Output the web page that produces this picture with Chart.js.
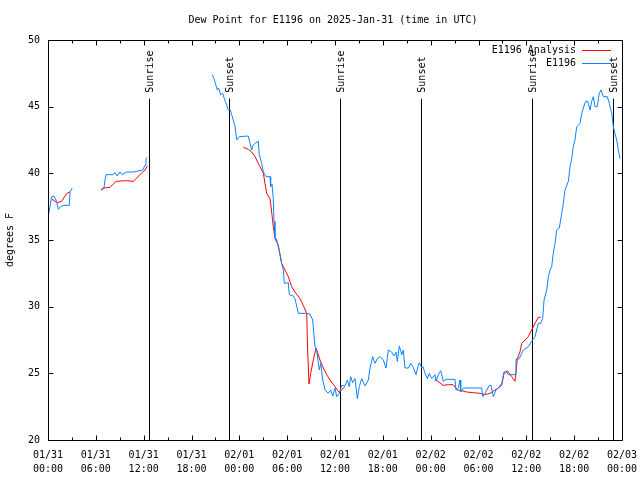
<!DOCTYPE html>
<html>
<head>
<meta charset="utf-8">
<script src="https://cdn.jsdelivr.net/npm/chart.js@4.4.1/dist/chart.umd.min.js"></script>
<style>
  body { margin: 0; background: #fff; }
  canvas { display: block; }
</style>
</head>
<body>
<canvas id="dewChart" width="640" height="480"></canvas>
<script>
// hours since 01/31 00:00 UTC, null = gap in the record
const obsHours = [
  0.04, 0.46, 0.75, 1.09, 1.29, 1.59, 1.92, 2.67, 2.76, 3.05, 5.0,
  6.74, 7.02, 7.15, 7.28, 8.19, 8.40, 8.66, 9.03, 9.28, 9.87, 10.70, 11.54, 11.88, 12.17, 12.29, 12.46, 16.0,
  20.61, 20.82, 21.07, 21.24, 21.39, 21.66, 21.91, 22.12, 22.42, 22.62, 22.83, 23.04, 23.24, 23.46, 23.67, 24.00,
  25.12, 25.34, 25.55, 25.71, 25.96, 26.38, 26.50, 26.81, 27.01, 27.35, 27.85, 27.93, 28.10, 28.26, 28.35, 28.47,
  28.69, 28.89, 29.10, 29.31, 29.52, 29.64, 30.14, 30.27, 30.77, 30.98, 31.40, 32.45, 32.86, 33.20, 33.49, 33.70,
  34.03, 34.21, 34.46, 34.75, 35.16, 35.46, 35.71, 36.00, 36.21, 36.54, 36.84, 37.25, 37.54, 37.79, 37.97, 38.22,
  38.51, 38.80, 39.05, 39.35, 39.76, 40.18, 40.39, 40.73, 41.02, 41.31, 41.65, 42.06, 42.40, 42.69, 43.11, 43.40,
  43.65, 43.82, 44.07, 44.37, 44.57, 44.78, 45.20, 45.50, 45.82, 46.16, 46.45, 46.58, 46.88, 47.04, 47.29, 47.58,
  47.83, 48.13, 48.54, 48.67, 48.96, 49.26, 49.59, 49.92, 51.05, 51.18, 51.47, 51.68, 51.77, 52.09, 54.40, 54.53,
  54.82, 55.36, 55.57, 55.86, 56.19, 56.48, 56.91, 57.20, 57.53, 57.74, 58.58, 58.70, 59.12, 59.42, 59.63, 60.25,
  60.67, 61.09, 61.50, 61.80, 62.05, 62.22, 62.56, 62.76, 62.97, 63.18, 63.38, 63.60, 63.81, 64.14, 64.44, 64.64,
  64.85, 65.27, 65.48, 65.69, 65.89, 66.10, 66.32, 66.52, 66.73, 66.95, 67.15, 67.45, 67.70, 67.99, 68.20, 68.40,
  68.62, 68.90, 69.15, 69.37, 69.66, 70.16, 70.41, 70.71, 70.91, 71.12, 71.33, 71.54, 71.75
];
const obsDew = [
  36.8, 38.25, 38.3, 37.9, 37.3, 37.5, 37.6, 37.6, 38.6, 38.9, null,
  38.75, 38.9, 39.5, 39.9, 39.9, 40.05, 39.8, 40.1, 39.9, 40.1, 40.1, 40.2, 40.25, 40.6, 41.1, 41.2, null,
  47.4, 47.1, 46.6, 46.25, 46.4, 45.9, 46.0, 45.6, 45.1, 44.75, 44.8, 44.4, 44.0, 43.5, 42.5, 42.75,
  42.8, 42.25, 41.75, 42.1, 42.25, 42.4, 41.4, 40.75, 40.1, 39.75, 39.75, 39.0, 39.2, 38.1, 36.4, 35.25,
  35.0, 34.5, 33.9, 33.25, 32.75, 31.75, 31.8, 30.9, 30.8, 30.6, 29.5, 29.5, 29.45, 29.0, 27.0, 26.75,
  25.25, 25.75, 24.5, 23.75, 23.5, 23.75, 23.3, 23.9, 23.25, 23.5, 24.1, 24.05, 24.5, 24.0, 24.75, 24.3,
  24.6, 23.1, 24.0, 24.6, 24.05, 24.5, 25.4, 26.25, 25.75, 26.1, 26.25, 26.0, 25.4, 26.75, 26.6, 26.3,
  26.6, 25.9, 27.05, 26.4, 26.75, 25.4, 25.4, 25.75, 25.45, 24.9, 25.6, 25.8, 25.4, 25.5, 25.0, 24.6,
  25.0, 24.6, 24.9, 24.4, 24.9, 25.2, 24.4, 24.55, 24.55, 23.75, 23.9, 24.5, 23.6, 23.9, 23.9, 23.25,
  23.5, 24.1, 24.1, 23.25, 23.75, 23.9, 24.25, 25.1, 25.1, 24.9, 24.9, 26.05, 26.1, 26.5, 26.75, 27.0,
  27.4, 27.75, 28.75, 28.75, 29.1, 30.5, 31.25, 32.25, 32.75, 33.0, 34.0, 34.75, 35.75, 35.9, 37.0, 37.75,
  38.75, 39.4, 40.5, 41.1, 42.0, 42.5, 43.5, 43.6, 43.75, 44.5, 44.9, 45.4, 45.4, 44.75, 45.4, 45.75,
  45.0, 45.0, 46.0, 46.25, 45.75, 45.75, 45.25, 44.5, 43.5, 43.0, 42.5, 41.75, 41.1
];

const anaHours = [
  0.46, 0.66, 1.17, 1.72, 2.35, 2.76, 5.0,
  6.65, 6.94, 7.78, 8.53, 9.87, 10.70, 11.54, 12.17, 12.46, 18.0,
  24.50, 25.13, 25.55, 25.97, 26.38, 26.59, 27.01, 27.22, 27.43, 27.85, 28.06, 28.26, 28.47, 28.89, 29.31, 29.73,
  30.14, 30.57, 30.98, 31.61, 32.02, 32.45, 32.57, 32.74, 32.95, 33.28, 33.62, 34.12, 34.53, 34.96, 35.37, 36.00,
  36.54, 37.04, 37.25, 42.0,
  48.54, 49.59, 50.22, 50.84, 51.34, 51.89, 52.52, 53.35, 54.19, 54.82, 55.44, 56.07, 56.48, 56.91, 57.20, 57.61,
  58.17, 58.58, 58.87, 59.20, 59.42, 59.83, 60.25, 60.67, 61.09, 61.50, 61.80
];
const anaDew = [
  38.05, 38.0, 37.8, 37.9, 38.5, 38.6, null,
  38.75, 38.9, 38.95, 39.4, 39.45, 39.4, 39.9, 40.25, 40.55, null,
  41.95, 41.8, 41.6, 41.25, 40.75, 40.5, 40.0, 39.25, 38.5, 38.1, 37.1, 36.0, 35.1, 34.6, 33.25, 32.75,
  32.25, 31.5, 31.1, 30.6, 30.1, 29.5, 26.75, 24.2, 25.0, 26.0, 26.9, 26.0, 25.4, 24.9, 24.5, 24.0,
  23.55, 23.9, 24.0, null,
  24.55, 24.1, 24.15, 24.15, 23.75, 23.7, 23.6, 23.55, 23.5, 23.4, 23.5, 23.75, 23.9, 24.1, 25.0, 25.2,
  24.75, 24.4, 26.1, 26.6, 27.25, 27.5, 27.75, 28.25, 28.75, 29.2, 29.2
];

const sunHours = [12.732, 22.767, 36.690, 46.850, 60.774, 70.934];
const sunNames = ['Sunrise', 'Sunset', 'Sunrise', 'Sunset', 'Sunrise', 'Sunset'];
const sunTop = 45.6;

const dayLabels = ['01/31', '01/31', '01/31', '01/31', '02/01', '02/01', '02/01', '02/01', '02/02', '02/02', '02/02', '02/02', '02/03'];
const clockLabels = ['00:00', '06:00', '12:00', '18:00', '00:00', '06:00', '12:00', '18:00', '00:00', '06:00', '12:00', '18:00', '00:00'];

const FONT = '"DejaVu Sans Mono", "Liberation Mono", monospace';

const toPoints = (xs, ys) => xs.map((h, i) => ({ x: h, y: ys[i] }));

let sunPoints = [];
sunHours.forEach((h) => {
  sunPoints.push({ x: h, y: 20 }, { x: h, y: sunTop }, { x: h, y: null });
});

// gnuplot look: frame, inward ticks, rotated sun labels, legend, title
const gnuplotDecor = {
  id: 'gnuplotDecor',
  afterDraw(chart) {
    const ctx = chart.ctx;
    const area = chart.chartArea;
    const xs = chart.scales.x;
    const ys = chart.scales.y;
    const L = Math.round(area.left) + 0.5, R = Math.round(area.right) + 0.5;
    const T = Math.round(area.top) + 0.5, B = Math.round(area.bottom) + 0.5;

    ctx.save();
    ctx.strokeStyle = '#000';
    ctx.lineWidth = 1;
    ctx.beginPath();
    ctx.rect(L, T, R - L, B - T);

    xs.ticks.forEach((t) => {
      const px = Math.round(xs.getPixelForValue(t.value)) + 0.5;
      const len = t.value % 6 === 0 ? 5 : 3;
      ctx.moveTo(px, B); ctx.lineTo(px, B - len);
      ctx.moveTo(px, T); ctx.lineTo(px, T + len);
    });
    ys.ticks.forEach((t) => {
      const py = Math.round(ys.getPixelForValue(t.value)) + 0.5;
      ctx.moveTo(L, py); ctx.lineTo(L + 5, py);
      ctx.moveTo(R, py); ctx.lineTo(R - 5, py);
    });
    ctx.stroke();

    ctx.fillStyle = '#000';
    ctx.font = '10px ' + FONT;

    // sun labels
    sunHours.forEach((h, i) => {
      const px = xs.getPixelForValue(h);
      const py = ys.getPixelForValue(sunTop) - 6;
      ctx.save();
      ctx.translate(px + 0.5, py);
      ctx.rotate(-Math.PI / 2);
      ctx.textAlign = 'left';
      ctx.textBaseline = 'middle';
      ctx.fillText(sunNames[i], 0, 0);
      ctx.restore();
    });

    // legend
    ctx.textAlign = 'right';
    ctx.textBaseline = 'middle';
    [0, 1].forEach((k) => {
      const ds = chart.data.datasets[k];
      const y = 50 + k * 13;
      ctx.fillText(ds.label, 576, y);
      ctx.strokeStyle = ds.borderColor;
      ctx.beginPath();
      ctx.moveTo(582, Math.round(y) + 0.5);
      ctx.lineTo(611, Math.round(y) + 0.5);
      ctx.stroke();
    });

    // title
    ctx.textAlign = 'center';
    ctx.fillText('Dew Point for E1196 on 2025-Jan-31 (time in UTC)', 333, 20);
    ctx.restore();
  }
};

var ctx = document.getElementById('dewChart').getContext('2d');

var dewChart = new Chart(ctx, {
  type: 'line',
  data: {
    datasets: [{
      label: 'E1196 Analysis',
      data: toPoints(anaHours, anaDew),
      borderColor: '#ff0000',
      borderWidth: 1,
      pointRadius: 0,
      tension: 0,
      spanGaps: false,
      order: 2
    }, {
      label: 'E1196',
      data: toPoints(obsHours, obsDew),
      borderColor: '#0a84ff',
      borderWidth: 1,
      pointRadius: 0,
      tension: 0,
      spanGaps: false,
      order: 1
    }, {
      label: 'sun',
      data: sunPoints,
      borderColor: '#000',
      borderWidth: 1,
      pointRadius: 0,
      spanGaps: false,
      order: 3
    }]
  },
  options: {
    responsive: false,
    animation: false,
    devicePixelRatio: 1,
    layout: { padding: { top: 40, right: 18, left: 0, bottom: 0 } },
    plugins: {
      legend: { display: false },
      title: { display: false },
      tooltip: { enabled: false }
    },
    scales: {
      x: {
        type: 'linear',
        min: 0,
        max: 72,
        grid: { display: false },
        border: { display: false },
        ticks: {
          stepSize: 3,
          autoSkip: false,
          maxRotation: 0,
          padding: 0,
          color: '#000',
          font: { family: FONT, size: 10, lineHeight: 1.4 },
          callback: (value) => value % 6 === 0 ? [dayLabels[value / 6], clockLabels[value / 6]] : ''
        },
        afterFit: (scale) => {
          scale.height = 40;
          scale.paddingLeft = 0;
          scale.paddingRight = 0;
        }
      },
      y: {
        min: 20,
        max: 50,
        grid: { display: false },
        border: { display: false },
        ticks: {
          stepSize: 5,
          padding: 0,
          color: '#000',
          font: { family: FONT, size: 10 }
        },
        title: {
          display: true,
          text: 'degrees F',
          color: '#000',
          padding: { top: 4, bottom: 0 },
          font: { family: FONT, size: 10 }
        },
        afterFit: (scale) => {
          scale.width = 48;
          scale.paddingTop = 0;
          scale.paddingBottom = 0;
        }
      }
    }
  },
  plugins: [gnuplotDecor]
});
</script>
</body>
</html>
